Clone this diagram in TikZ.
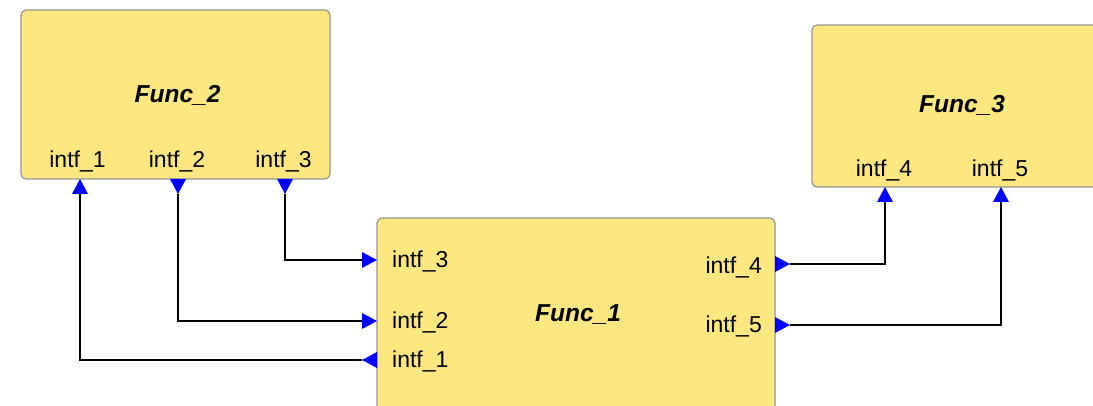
\documentclass[tikz,border=0pt]{standalone}
\usepackage{fontspec}
\setmainfont{Liberation Sans}
\definecolor{blockfill}{RGB}{253,231,128}
\definecolor{blockedge}{RGB}{150,150,150}
\definecolor{portblue}{RGB}{0,0,255}
\begin{document}
\begin{tikzpicture}[x=1pt,y=-1pt,
  block/.style={draw=blockedge, fill=blockfill, line width=1.2pt, rounded corners=5pt, inner sep=0pt},
  title/.style={font=\fontsize{24.5}{28}\selectfont\bfseries\itshape, inner sep=0pt},
  portlabel/.style={font=\fontsize{23}{26}\selectfont, inner sep=0pt},
  wire/.style={line width=1.3pt, draw=black},
  % port marker with its tip on the block edge
  portin/.pic={\fill[portblue] (0,0) -- (-15,-8) -- (-15,8) -- cycle; \coordinate (-end) at (-15,0);},
  % port marker with its base on the block edge
  portout/.pic={\fill[portblue] (0,-8) -- (15,0) -- (0,8) -- cycle; \coordinate (-end) at (15,0);},
]
\useasboundingbox (0,0) rectangle (1093,406);
\clip (0,0) rectangle (1093,406);

% blocks
\node[block, minimum width=309pt, minimum height=169pt] (f2) at (175.5,94.5) {};
\node[block, minimum width=398pt, minimum height=212pt] (f1) at (576,324) {};
\node[block, minimum width=308pt, minimum height=162pt] (f3) at (966,106) {};

% titles
\node[title, anchor=base] (f2t) at (177.5,103) {Func\_2};
\node[title, anchor=base] (f1t) at (578,322) {Func\_1};
\node[title, anchor=base] (f3t) at (962,113) {Func\_3};

% port labels of Func_2
\node[portlabel, anchor=base] (l2a) at (77.5,168) {intf\_1};
\node[portlabel, anchor=base] (l2b) at (177,168) {intf\_2};
\node[portlabel, anchor=base] (l2c) at (283.5,168) {intf\_3};

% port labels of Func_1
\node[portlabel, anchor=base west] (l1c) at (392,268) {intf\_3};
\node[portlabel, anchor=base west] (l1b) at (392,328) {intf\_2};
\node[portlabel, anchor=base west] (l1a) at (392,367) {intf\_1};
\node[portlabel, anchor=base east] (l1d) at (762,273) {intf\_4};
\node[portlabel, anchor=base east] (l1e) at (762,332) {intf\_5};

% port labels of Func_3
\node[portlabel, anchor=base] (l3d) at (884,177) {intf\_4};
\node[portlabel, anchor=base] (l3e) at (1000,177) {intf\_5};

% port markers
\pic[rotate=90]  (t2a) at (80,179)  {portin};
\pic[rotate=270] (t2b) at (178,179) {portout};
\pic[rotate=270] (t2c) at (285,179) {portout};
\pic[rotate=180] (t1a) at (377,360) {portout};
\pic             (t1b) at (377,321) {portin};
\pic             (t1c) at (377,260) {portin};
\pic             (t1d) at (775,264) {portout};
\pic             (t1e) at (775,325) {portout};
\pic[rotate=90]  (t3d) at (885,187) {portin};
\pic[rotate=90]  (t3e) at (1001,187) {portin};

% connections
\draw[wire] (t2a-end) |- (t1a-end);
\draw[wire] (t2b-end) |- (t1b-end);
\draw[wire] (t2c-end) |- (t1c-end);
\draw[wire] (t1d-end) -| (t3d-end);
\draw[wire] (t1e-end) -| (t3e-end);
\end{tikzpicture}
\end{document}
